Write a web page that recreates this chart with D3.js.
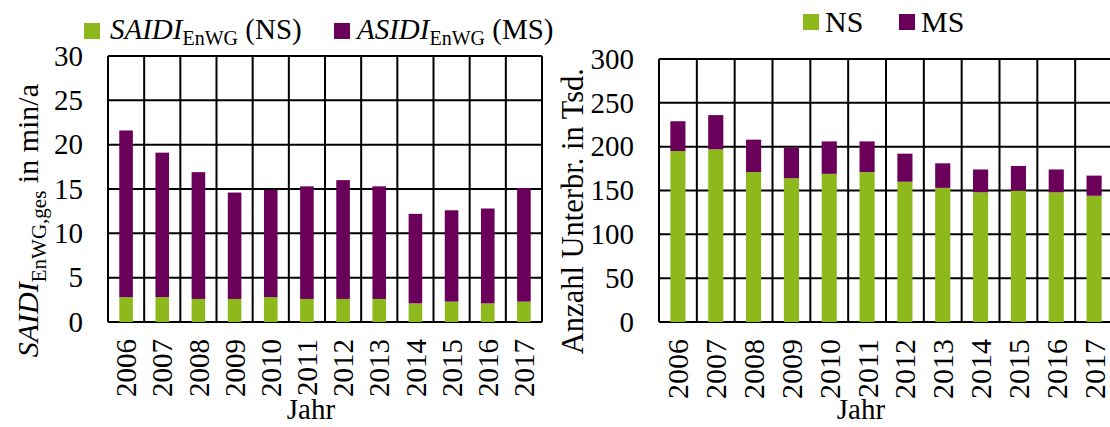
<!DOCTYPE html>
<html>
<head>
<meta charset="utf-8">
<script src="https://cdn.jsdelivr.net/npm/d3@7"></script>
<style>
  html, body { margin: 0; padding: 0; background: #fff; }
  svg { display: block; font-family: "Liberation Serif", "Times New Roman", serif; }
</style>
</head>
<body>
<svg id="chart" width="1110" height="427"></svg>
<script>
// Years shown on both panels
const years = ["2006", "2007", "2008", "2009", "2010", "2011", "2012", "2013", "2014", "2015", "2016", "2017"];

// Left panel: unavailability in min/a
const saidiNS = [2.8, 2.8, 2.6, 2.6, 2.8, 2.6, 2.6, 2.6, 2.1, 2.3, 2.1, 2.3];
const asidiMS = [18.8, 16.3, 14.3, 12.0, 12.1, 12.7, 13.4, 12.7, 10.1, 10.3, 10.7, 12.8];
const leftTicks = [0, 5, 10, 15, 20, 25, 30];

// Right panel: number of interruptions in thousands
const countNS = [195, 197, 171, 164, 169, 171, 160, 153, 148, 150, 148, 144];
const countMS = [34, 39, 37, 35, 37, 35, 32, 28, 26, 28, 26, 23];
const rightTicks = [0, 50, 100, 150, 200, 250, 300];

const colors = { NS: "#8DB91D", MS: "#6B005B" };

const svg = d3.select("#chart");

function panel(cfg) {
  const g = svg.append("g");
  const x = d3.scaleBand().domain(years).range([cfg.x0, cfg.x1]).paddingInner(0).paddingOuter(0);
  const y = d3.scaleLinear().domain([0, cfg.max]).range([cfg.yBottom, cfg.yTop]);

  const rows = years.map((yr, i) => ({ year: yr, NS: cfg.ns[i], MS: cfg.ms[i] }));
  const stacked = d3.stack().keys(["NS", "MS"])(rows);

  // horizontal grid lines
  g.append("g")
    .selectAll("line.h")
    .data(cfg.ticks)
    .join("line")
    .attr("x1", cfg.x0).attr("x2", cfg.x1)
    .attr("y1", d => y(d)).attr("y2", d => y(d))
    .attr("stroke", "#000").attr("stroke-width", 2);

  // vertical grid lines at category boundaries
  const bounds = years.map(d => x(d)).concat([cfg.x1]);
  g.append("g")
    .selectAll("line.v")
    .data(bounds)
    .join("line")
    .attr("x1", d => d).attr("x2", d => d)
    .attr("y1", y(cfg.max)).attr("y2", y(0))
    .attr("stroke", "#000").attr("stroke-width", 2);

  // stacked bars
  const bw = x.bandwidth() * cfg.barFrac;
  g.append("g")
    .selectAll("g.layer")
    .data(stacked)
    .join("g")
    .attr("fill", d => colors[d.key])
    .selectAll("rect")
    .data(d => d)
    .join("rect")
    .attr("x", d => x(d.data.year) + x.bandwidth() / 2 - bw / 2)
    .attr("width", bw)
    .attr("y", d => y(d[1]))
    .attr("height", d => y(d[0]) - y(d[1]));

  // y axis labels
  const yAxis = d3.axisLeft(y).tickValues(cfg.ticks).tickSize(0).tickPadding(cfg.tickPad);
  const ya = g.append("g").attr("transform", `translate(${cfg.x0},0)`).call(yAxis);
  ya.select(".domain").remove();
  ya.selectAll("text")
    .attr("font-family", "Liberation Serif")
    .attr("font-size", 29)
    .attr("fill", "#000");

  // year labels, rotated
  g.append("g")
    .selectAll("text")
    .data(years)
    .join("text")
    .attr("transform", d => `translate(${x(d) + x.bandwidth() / 2},${cfg.yearTop}) rotate(-90)`)
    .attr("text-anchor", "end")
    .attr("dy", "0.35em")
    .attr("font-size", cfg.yearSize)
    .text(d => d);

  // x axis title
  g.append("text")
    .attr("x", cfg.jahrX).attr("y", 419)
    .attr("text-anchor", "middle")
    .attr("font-size", 29)
    .text("Jahr");

  return { x, y };
}

panel({
  x0: 108, x1: 542, yTop: 56, yBottom: 322, max: 30,
  ns: saidiNS, ms: asidiMS, ticks: leftTicks, barFrac: 0.376,
  tickPad: 25, yearTop: 339, yearSize: 29, jahrX: 311
});

panel({
  x0: 659, x1: 1113, yTop: 59, yBottom: 322, max: 300,
  ns: countNS, ms: countMS, ticks: rightTicks, barFrac: 0.40,
  tickPad: 25, yearTop: 339, yearSize: 30, jahrX: 861
});

// left y axis title
const lt = svg.append("text")
  .attr("transform", "translate(38,84) rotate(-90)")
  .attr("text-anchor", "end")
  .attr("font-size", 30);
lt.append("tspan").attr("font-style", "italic").text("SAIDI");
lt.append("tspan").attr("font-size", 21).attr("dy", 8).text("EnWG,ges");
lt.append("tspan").attr("dy", -8).text(" in min/a");

// right y axis title
svg.append("text")
  .attr("transform", "translate(583,68) rotate(-90)")
  .attr("text-anchor", "end")
  .attr("font-size", 30.5)
  .text("Anzahl Unterbr. in Tsd.");

// left legend
const legL = svg.append("g");
legL.append("rect").attr("x", 84).attr("y", 23).attr("width", 16).attr("height", 16).attr("fill", colors.NS);
const t1 = legL.append("text").attr("x", 110).attr("y", 39).attr("font-size", 29);
t1.append("tspan").attr("font-style", "italic").text("SAIDI");
t1.append("tspan").attr("font-size", 20).attr("dy", 6).text("EnWG");
t1.append("tspan").attr("dy", -6).text(" (NS)");
legL.append("rect").attr("x", 334).attr("y", 23).attr("width", 16).attr("height", 16).attr("fill", colors.MS);
const t2 = legL.append("text").attr("x", 357).attr("y", 39).attr("font-size", 29);
t2.append("tspan").attr("font-style", "italic").text("ASIDI");
t2.append("tspan").attr("font-size", 20).attr("dy", 6).text("EnWG");
t2.append("tspan").attr("dy", -6).text(" (MS)");

// right legend
const legR = svg.append("g");
legR.append("rect").attr("x", 803).attr("y", 14).attr("width", 16).attr("height", 16).attr("fill", colors.NS);
legR.append("text").attr("x", 825).attr("y", 32).attr("font-size", 30).text("NS");
legR.append("rect").attr("x", 899).attr("y", 14).attr("width", 16).attr("height", 16).attr("fill", colors.MS);
legR.append("text").attr("x", 921).attr("y", 32).attr("font-size", 30).text("MS");
</script>
</body>
</html>
